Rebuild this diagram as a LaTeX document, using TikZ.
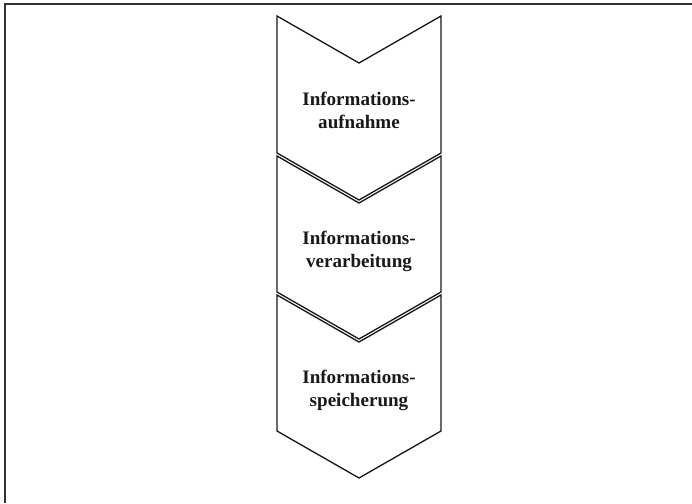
\documentclass[tikz,border=0pt]{standalone}
\usepackage{fontspec}
\setmainfont{Liberation Serif}
\begin{document}
\begin{tikzpicture}[x=0.75pt,y=-0.75pt,
  chev/.style={draw=black!90,line width=1pt,line join=miter,fill=white},
  lbl/.style={font=\bfseries\fontsize{14.3}{17.3}\selectfont,align=center,text=black!90},
  frame/.style={draw=black!80,line width=1.1pt}]
\useasboundingbox (0,0) rectangle (692,503);
\draw[frame] (5,503) -- (5,4) -- (692,4);
% chevrons
\draw[chev] (277,16) -- (359,63) -- (441,16) -- (441,153) -- (359,200) -- (277,153) -- cycle;
\draw[chev] (277,156) -- (359,203) -- (441,156) -- (441,292) -- (359,339) -- (277,292) -- cycle;
\draw[chev] (277,295) -- (359,342) -- (441,295) -- (441,431) -- (359,478) -- (277,431) -- cycle;
\node[lbl] (a) at (359,110) {Informations-\\aufnahme};
\node[lbl] (b) at (359,251) {Informations-\\verarbeitung};
\node[lbl] (c) at (359,390) {Informations-\\speicherung};
\end{tikzpicture}
\end{document}
